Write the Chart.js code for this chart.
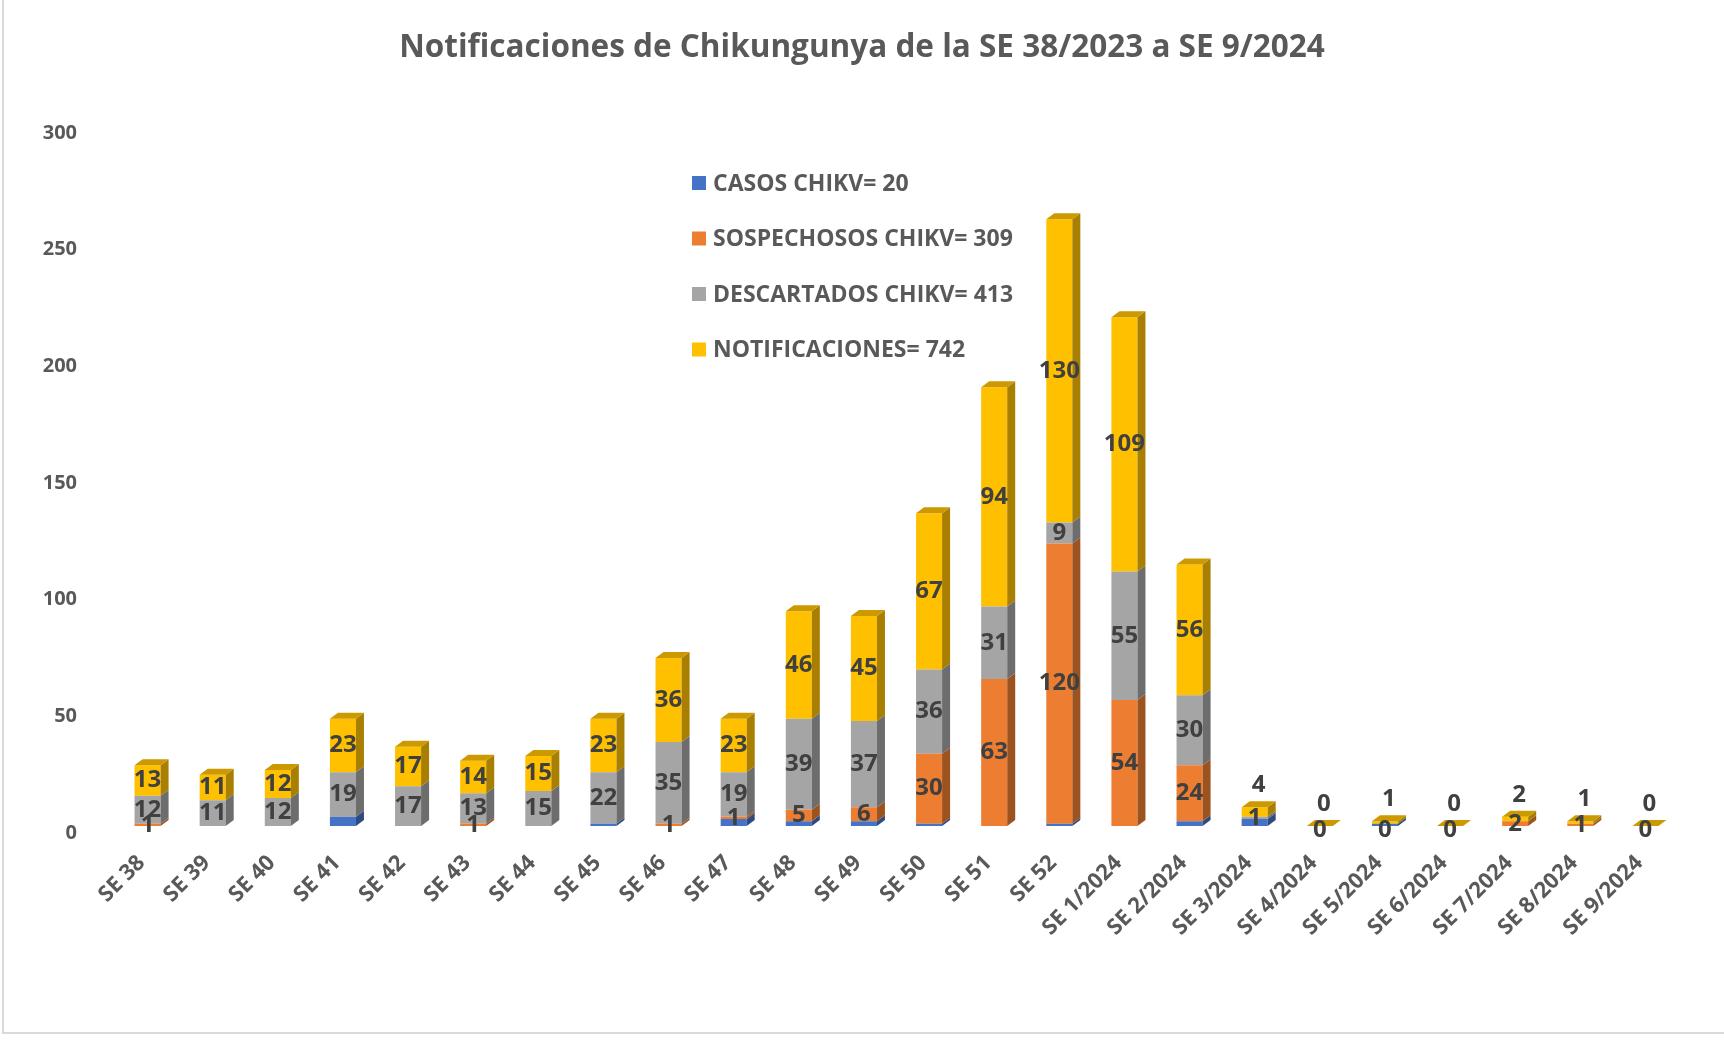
<!DOCTYPE html>
<html>
<head>
<meta charset="utf-8">
<script src="https://cdn.jsdelivr.net/npm/chart.js@4.4.1/dist/chart.umd.min.js"></script>
<style>
  body { margin: 0; background: #fff; }
  canvas { display: block; }
</style>
</head>
<body>
<canvas id="chikChart" width="1724" height="1041"></canvas>
<script>
const semanas = ['SE 38','SE 39','SE 40','SE 41','SE 42','SE 43','SE 44','SE 45','SE 46','SE 47','SE 48','SE 49','SE 50','SE 51','SE 52',
    'SE 1/2024','SE 2/2024','SE 3/2024','SE 4/2024','SE 5/2024','SE 6/2024','SE 7/2024','SE 8/2024','SE 9/2024'];
const casos        = [0,0,0,4,0,0,0,1,0,3,2,2,1,0,1,0,2,3,0,1,0,0,0,0];
const sospechosos  = [1,0,0,0,0,1,0,0,1,1,5,6,30,63,120,54,24,0,0,0,0,2,1,0];
const descartados  = [12,11,12,19,17,13,15,22,35,19,39,37,36,31,9,55,30,1,0,0,0,0,0,0];
const notificaciones = [13,11,12,23,17,14,15,23,36,23,46,45,67,94,130,109,56,4,0,1,0,2,1,0];

const FONT = "'Open Sans', sans-serif";
const TXT = '#595959';
const DX = 8, DY = 6;

function shade(hex, f){
    const n = parseInt(hex.slice(1),16);
    const r = Math.round(((n>>16)&255)*f), g = Math.round(((n>>8)&255)*f), b = Math.round((n&255)*f);
    return `rgb(${r},${g},${b})`;
}
const sum = a => a.reduce((s,v)=>s+v,0);

// caras laterales y superiores + etiquetas
const efecto3d = {
    id: 'efecto3d',
    afterDatasetsDraw(chart){
        const ctx = chart.ctx;
        const n = chart.data.labels.length;
        const metas = chart.data.datasets.map((d,i)=>chart.getDatasetMeta(i));
        ctx.save();
        // lados
        metas.forEach((meta,di)=>{
            const col = chart.data.datasets[di].backgroundColor;
            meta.data.forEach((el,i)=>{
                const p = el.getProps(['x','y','base','width'], true);
                if (Math.abs(p.base - p.y) < 0.5) return;
                const xr = p.x + p.width/2;
                ctx.fillStyle = shade(col, 0.66);
                ctx.beginPath();
                ctx.moveTo(xr, p.y); ctx.lineTo(xr+DX, p.y-DY);
                ctx.lineTo(xr+DX, p.base-DY); ctx.lineTo(xr, p.base);
                ctx.closePath(); ctx.fill();
            });
        });
        // tapas
        for (let i=0;i<n;i++){
            let top = null, col = chart.data.datasets[3].backgroundColor;
            metas.forEach((meta,di)=>{
                const p = meta.data[i].getProps(['x','y','base','width'], true);
                if (top === null || p.y < top.y) top = p;
                if (chart.data.datasets[di].data[i] > 0) col = chart.data.datasets[di].backgroundColor;
            });
            const xl = top.x - top.width/2, xr = top.x + top.width/2;
            ctx.fillStyle = shade(col, 0.8);
            ctx.beginPath();
            ctx.moveTo(xl, top.y); ctx.lineTo(xr, top.y);
            ctx.lineTo(xr+DX, top.y-DY); ctx.lineTo(xl+DX, top.y-DY);
            ctx.closePath(); ctx.fill();
        }
        // etiquetas
        ctx.font = `bold 24px ${FONT}`;
        ctx.fillStyle = '#404040';
        ctx.textAlign = 'center';
        ctx.textBaseline = 'middle';
        for (let i=0;i<n;i++){
            const small = notificaciones[i] <= 4;
            for (let di=1; di<4; di++){
                const v = chart.data.datasets[di].data[i];
                const p = metas[di].data[i].getProps(['x','y','base','width'], true);
                if (di === 3 && small){
                    ctx.fillText(String(v), p.x + 4, p.y - DY - 16);
                } else if (v > 0){
                    ctx.fillText(String(v), p.x, (p.y + p.base)/2);
                }
            }
            if (small && sospechosos[i] === 0 && descartados[i] === 0){
                const p = metas[0].data[i].getProps(['x','base'], true);
                ctx.fillText('0', p.x, p.base + 4);
            }
        }
        // leyenda
        ctx.font = `bold 23px ${FONT}`;
        ctx.textAlign = 'left';
        chart.data.datasets.forEach((d,di)=>{
            const cy = 183 + di*55.5;
            ctx.fillStyle = d.backgroundColor;
            ctx.fillRect(692, cy-7, 14, 14);
            ctx.fillStyle = TXT;
            ctx.fillText(`${d.label}= ${sum(d.data)}`, 713, cy+1);
        });
        ctx.restore();
    },
    beforeDraw(chart){
        const ctx = chart.ctx;
        ctx.save();
        ctx.strokeStyle = '#d9d9d9';
        ctx.lineWidth = 2;
        ctx.beginPath();
        ctx.moveTo(3, 0); ctx.lineTo(3, 1033); ctx.lineTo(1724, 1033);
        ctx.stroke();
        ctx.restore();
    }
};

new Chart(document.getElementById('chikChart'), {
    type: 'bar',
    data: {
        labels: semanas,
        datasets: [
            {label:'CASOS CHIKV', data:casos, backgroundColor:'#4472C4'},
            {label:'SOSPECHOSOS CHIKV', data:sospechosos, backgroundColor:'#ED7D31'},
            {label:'DESCARTADOS CHIKV', data:descartados, backgroundColor:'#A5A5A5'},
            {label:'NOTIFICACIONES', data:notificaciones, backgroundColor:'#FFC000'}
        ]
    },
    options: {
        responsive: false,
        animation: false,
        categoryPercentage: 0.8,
        barPercentage: 0.5,
        layout: {padding: 0},
        plugins: {
            legend: {display: false},
            tooltip: {enabled: false},
            title: {
                display: true,
                text: 'Notificaciones de Chikungunya de la SE 38/2023 a SE 9/2024',
                color: TXT,
                font: {family: FONT, size: 31.5, weight: 'bold'},
                padding: {top: 29, bottom: 59}
            }
        },
        scales: {
            x: {
                stacked: true,
                grid: {display: false},
                border: {display: false},
                ticks: {color: TXT, font: {family: FONT, size: 22, weight: 'bold'}, maxRotation: 45, minRotation: 45, padding: 16, labelOffset: -6},
                afterFit: s => { s.height = 215; }
            },
            y: {
                stacked: true,
                min: 0, max: 300,
                grid: {display: false},
                border: {display: false},
                ticks: {stepSize: 50, color: TXT, font: {family: FONT, size: 20, weight: 'bold'}, padding: 30, labelOffset: 7},
                afterFit: s => { s.width = 115; }
            },
            margenDer: {
                position: 'right',
                grid: {display: false},
                border: {display: false},
                ticks: {display: false},
                afterFit: s => { s.width = 46; }
            }
        }
    },
    plugins: [efecto3d]
});
</script>
</body>
</html>
